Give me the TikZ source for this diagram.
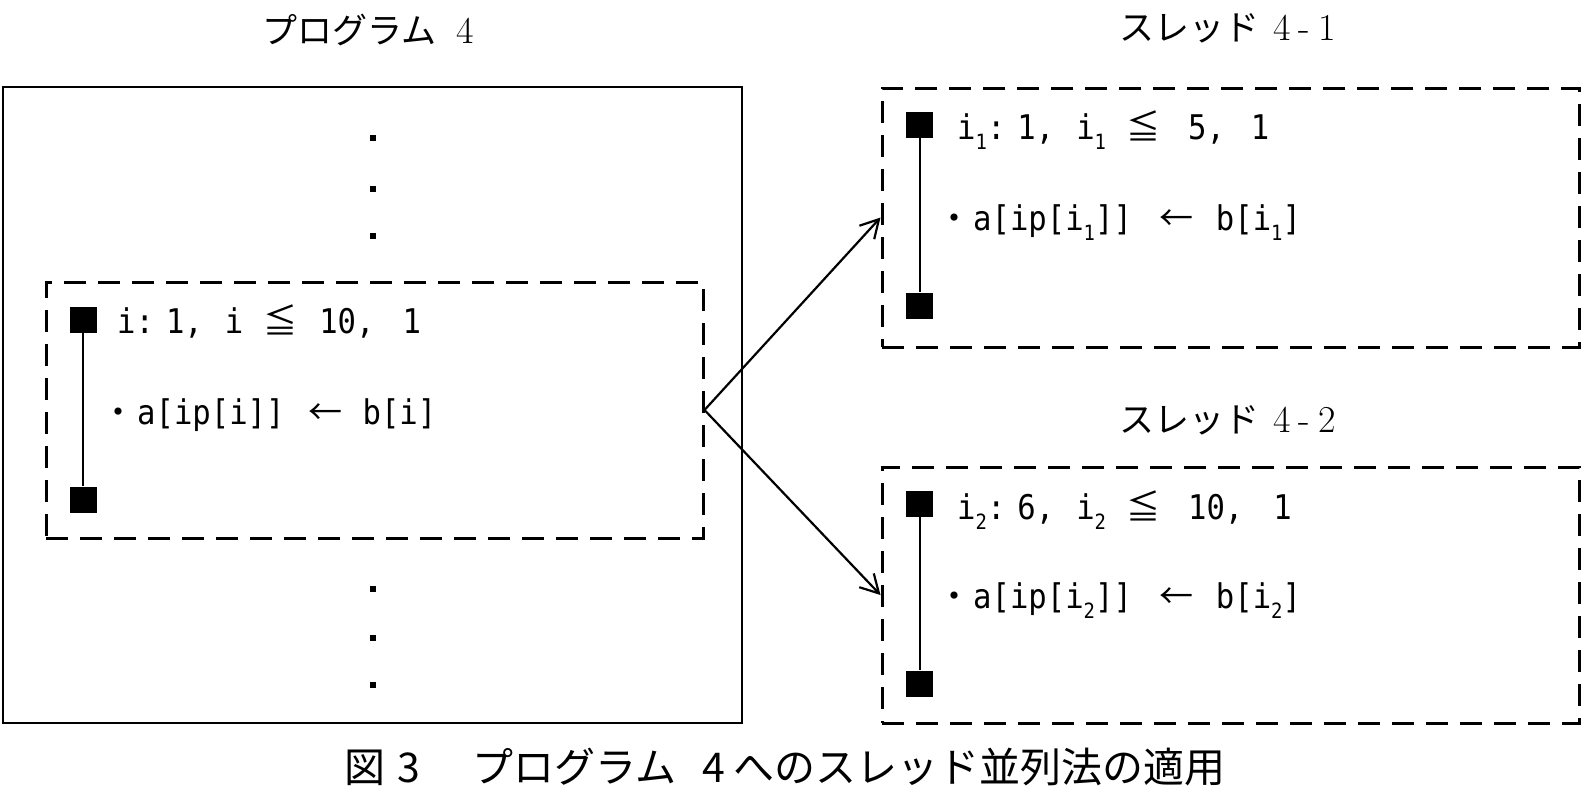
\documentclass[tikz,border=0pt]{standalone}
\usepackage{fontspec}
\usetikzlibrary{arrows.meta}
\newfontfamily\jp{Noto Sans CJK JP}
\newfontfamily\mono[FakeStretch=0.9]{DejaVu Sans Mono}
\newcommand{\mysub}[1]{\raisebox{-0.3em}{\mono\fontsize{21}{21}\selectfont #1}}
\newcommand{\jw}[1]{\makebox[38pt]{\jp #1}}
\begin{document}
\begin{tikzpicture}[x=1pt,y=-1pt,
  solidbox/.style={draw,line width=2.8pt,inner sep=0pt},
  dashbox/.style={draw,line width=3pt,dash pattern=on 22pt off 12pt,inner sep=0pt},
  blk/.style={fill=black,minimum width=27pt,minimum height=26pt,inner sep=0pt},
  dotmark/.style={fill=black,minimum size=6pt,inner sep=0pt},
  code/.style={font=\mono\fontsize{34}{34}\selectfont,anchor=base west,inner sep=0pt},
  ttl/.style={font=\jp\fontsize{35}{35}\selectfont,anchor=west,inner sep=0pt},
  conn/.style={line width=2.2pt,-{Straight Barb[length=18pt,width=20pt,line width=2.2pt]}}]
\useasboundingbox (0,0) rectangle (1587,792);
% titles
\node[ttl] (t0) at (262,30) {プログラム\hspace{20pt}{\rmfamily\fontsize{38}{38}\selectfont 4}};
\node[ttl] (t1) at (1119,28) {スレッド\hspace{14pt}{\rmfamily\fontsize{38}{38}\selectfont 4\hspace{8pt}-\hspace{8pt}1}};
\node[ttl] (t2) at (1119,420) {スレッド\hspace{14pt}{\rmfamily\fontsize{38}{38}\selectfont 4\hspace{8pt}-\hspace{8pt}2}};
% outer program box
\node[solidbox,minimum width=739pt,minimum height=636pt] (outer) at (372.5,405) {};
% dots
\node[dotmark] (d1) at (373,138) {};
\node[dotmark] (d2) at (373,189) {};
\node[dotmark] (d3) at (373,236) {};
\node[dotmark] (d4) at (373,589) {};
\node[dotmark] (d5) at (373,638) {};
\node[dotmark] (d6) at (373,685) {};
% inner loop box
\node[dashbox,minimum width=657pt,minimum height=256pt] (inner) at (374.5,410) {};
\node[blk] (s0a) at (83,320) {};
\node[blk] (s0b) at (83,499.5) {};
\draw[line width=2pt] (s0a) -- (s0b);
\node[code] (c0a) at (117,333) {i:\hspace{12pt}1,\hspace{22pt}i\hspace{18pt}\jw{≦}\hspace{20pt}10,\hspace{28pt}1};
\node[code] (c0b) at (99,424) {\jw{・}a[ip[i]]\hspace{22pt}\jw{←}\hspace{18pt}b[i]};
% thread 4-1
\node[dashbox,minimum width=697pt,minimum height=259pt] (th1) at (1230.5,217.5) {};
\node[blk] (s1a) at (919.5,125) {};
\node[blk] (s1b) at (919.5,305.5) {};
\draw[line width=2pt] (s1a) -- (s1b);
\node[code] (c1a) at (957,139) {i\mysub{1}:\hspace{12pt}1,\hspace{22pt}i\mysub{1}\hspace{18pt}\jw{≦}\hspace{26pt}5,\hspace{26pt}1};
\node[code] (c1b) at (935,230) {\jw{・}a[ip[i\mysub{1}]]\hspace{26pt}\jw{←}\hspace{20pt}b[i\mysub{1}]};
% thread 4-2
\node[dashbox,minimum width=697pt,minimum height=256pt] (th2) at (1230.5,595) {};
\node[blk] (s2a) at (919.5,504) {};
\node[blk] (s2b) at (919.5,683.5) {};
\draw[line width=2pt] (s2a) -- (s2b);
\node[code] (c2a) at (957,519) {i\mysub{2}:\hspace{12pt}6,\hspace{22pt}i\mysub{2}\hspace{18pt}\jw{≦}\hspace{26pt}10,\hspace{30pt}1};
\node[code] (c2b) at (935,608) {\jw{・}a[ip[i\mysub{2}]]\hspace{26pt}\jw{←}\hspace{20pt}b[i\mysub{2}]};
% connectors
\draw[conn] (inner.east) -- (th1.west);
\draw[conn] (inner.east) -- (th2.west);
% caption
\node[ttl,font=\jp\fontsize{41}{41}\selectfont] (cap) at (344,767) {図\hspace{12pt}3\hspace{53pt}プログラム\hspace{26pt}4\hspace{8pt}へのスレッド並列法の適用};
\end{tikzpicture}
\end{document}
